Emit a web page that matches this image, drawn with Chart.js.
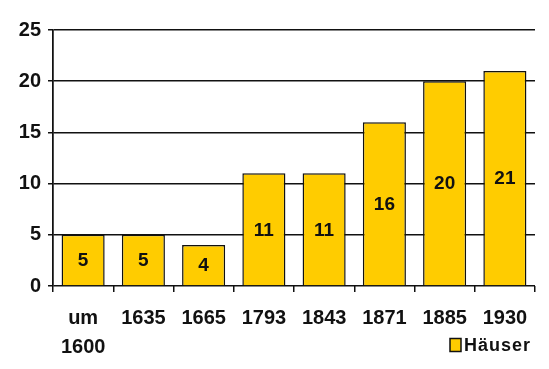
<!DOCTYPE html>
<html>
<head>
<meta charset="utf-8">
<script src="https://cdn.jsdelivr.net/npm/chart.js@4"></script>
<style>
  html, body { margin: 0; padding: 0; background: #fff; }
  #wrap { width: 549px; height: 369px; }
</style>
</head>
<body>
<div id="wrap"><canvas id="houseChart" width="549" height="369"></canvas></div>
<script>
const years = [['um', '1600'], '1635', '1665', '1793', '1843', '1871', '1885', '1930'];
const houses = [5, 5, 4, 11, 11, 16, 20, 21];
const yTicks = [0, 5, 10, 15, 20, 25];

const fontFamily = '"Liberation Sans", Arial, sans-serif';

// value written in the middle of each bar, plus the small legend bottom right
const barLabels = {
    id: 'barLabels',
    afterDatasetsDraw(chart) {
        const ctx = chart.ctx;
        const meta = chart.getDatasetMeta(0);
        ctx.save();
        ctx.font = 'bold 19px ' + fontFamily;
        ctx.fillStyle = '#111';
        ctx.textAlign = 'center';
        ctx.textBaseline = 'middle';
        meta.data.forEach((bar, i) => {
            ctx.fillText(houses[i], bar.x, (bar.y + bar.base) / 2 + 1);
        });
        ctx.restore();
    },
    afterDraw(chart) {
        const ctx = chart.ctx;
        const ds = chart.data.datasets[0];
        ctx.save();
        ctx.fillStyle = ds.backgroundColor;
        ctx.strokeStyle = ds.borderColor;
        ctx.lineWidth = 1.5;
        ctx.fillRect(450, 338.5, 11, 13);
        ctx.strokeRect(450, 338.5, 11, 13);
        ctx.font = 'bold 18px ' + fontFamily;
        ctx.letterSpacing = '1px';
        ctx.fillStyle = '#111';
        ctx.textAlign = 'left';
        ctx.textBaseline = 'middle';
        ctx.fillText(ds.label, 464, 346);
        ctx.restore();
    }
};

const lastIdx = years.length;

new Chart(document.getElementById('houseChart').getContext('2d'), {
    type: 'bar',
    data: {
        labels: years,
        datasets: [{
            label: 'Häuser',
            data: houses,
            backgroundColor: '#FFCC00',
            borderColor: '#111',
            borderWidth: 1.5,
            barPercentage: 0.715,
            categoryPercentage: 1
        }]
    },
    options: {
        responsive: false,
        animation: false,
        layout: { padding: { left: 4, right: 14, top: 30, bottom: 3 } },
        scales: {
            x: {
                grid: {
                    offset: true,
                    drawOnChartArea: true,
                    color: c => (c.index === 0 || c.index === lastIdx) ? '#111' : 'rgba(0,0,0,0)',
                    tickColor: '#111',
                    lineWidth: 1.5,
                    tickLength: 6
                },
                border: { display: false },
                ticks: {
                    color: '#111',
                    font: { family: fontFamily, size: 20, weight: 'bold', lineHeight: 1.45 },
                    padding: 12,
                    maxRotation: 0,
                    autoSkip: false
                },
                afterFit: s => { s.height = 80; }
            },
            y: {
                min: 0,
                max: 25,
                afterBuildTicks: s => { s.ticks = yTicks.map(v => ({ value: v })); },
                grid: { color: '#111', lineWidth: 1.5, tickLength: 5 },
                border: { color: '#111', width: 1.5 },
                ticks: {
                    color: '#111',
                    font: { family: fontFamily, size: 20, weight: 'bold' },
                    padding: 7
                },
                afterFit: s => { s.width = 49; }
            }
        },
        plugins: {
            legend: { display: false },
            tooltip: { enabled: false }
        }
    },
    plugins: [barLabels]
});
</script>
</body>
</html>
